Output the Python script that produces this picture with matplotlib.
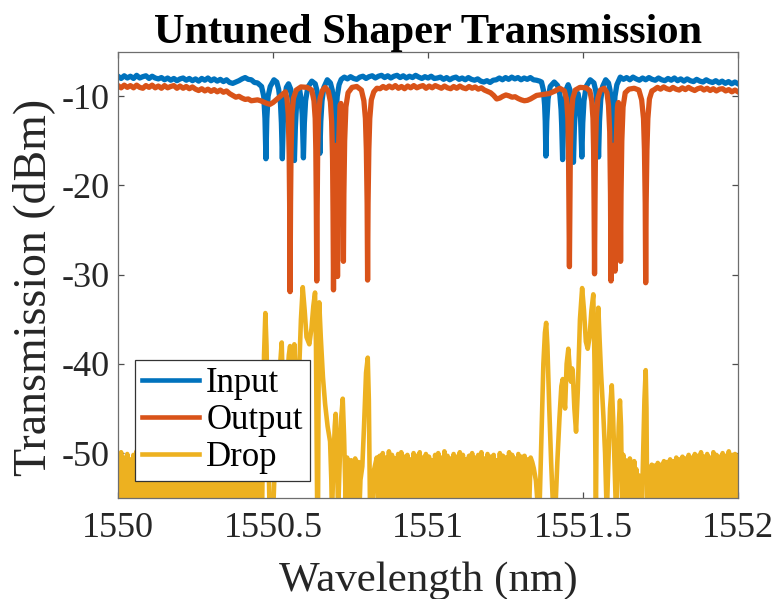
import numpy as np
import matplotlib
matplotlib.use("Agg")
import matplotlib.pyplot as plt

# ---------------- data ----------------
title = "Untuned Shaper Transmission"
xlabel = "Wavelength (nm)"
ylabel = "Transmission (dBm)"
series_names = ["Input", "Output", "Drop"]
x_ticks = [1550, 1550.5, 1551, 1551.5, 1552]
x_ticklabels = ["1550", "1550.5", "1551", "1551.5", "1552"]
y_ticks = [-50, -40, -30, -20, -10]
y_ticklabels = ["-50", "-40", "-30", "-20", "-10"]

# ---- Input (blue) ----
in_left_span = (1550.00, 1550.45)
in_left = [-7.75, -8.0, -7.7, -7.95, -7.75, -8.0, -7.65, -7.95, -7.8, -7.7,
           -8.0, -7.75, -7.95, -8.05, -7.9, -8.15, -7.95, -8.2, -8.0, -8.25,
           -8.05, -7.95, -8.2, -8.0, -8.25, -8.05, -8.3, -8.0, -8.2, -7.95,
           -8.25, -8.05, -8.3, -8.1, -8.35, -8.15, -8.45, -8.55, -8.4, -8.25,
           -8.05, -7.9, -8.1, -8.15, -8.45, -8.5]
in_group1 = [(1550.463, -8.9), (1550.470, -10.0), (1550.474, -12.5), (1550.477, -17.0),
             (1550.480, -12.5), (1550.484, -10.0), (1550.491, -8.9), (1550.503, -8.15),
             (1550.512, -8.4), (1550.518, -9.2), (1550.524, -10.8), (1550.527, -13.0),
             (1550.530, -17.0), (1550.533, -13.0), (1550.537, -10.5), (1550.543, -9.0),
             (1550.550, -8.6), (1550.557, -9.2), (1550.563, -10.8), (1550.566, -13.0),
             (1550.569, -17.2), (1550.572, -13.5), (1550.576, -10.8), (1550.582, -9.5),
             (1550.586, -9.3), (1550.590, -10.2), (1550.594, -12.0), (1550.598, -16.9),
             (1550.601, -13.0), (1550.605, -10.5), (1550.612, -9.0), (1550.625, -8.3),
             (1550.636, -8.6), (1550.642, -9.4), (1550.646, -11.0), (1550.648, -12.8),
             (1550.651, -16.4), (1550.654, -12.8), (1550.658, -10.5), (1550.664, -9.0),
             (1550.675, -8.15), (1550.685, -8.5), (1550.691, -9.3), (1550.695, -10.8),
             (1550.697, -12.5), (1550.700, -15.7), (1550.703, -12.3), (1550.707, -10.0),
             (1550.713, -8.7)]
in_mid_span = (1550.72, 1551.36)
in_mid = [-8.1, -7.85, -8.05, -7.8, -8.0, -8.1, -7.85, -7.75, -8.0, -7.8,
          -7.7, -7.95, -7.75, -7.65, -7.9, -7.7, -7.95, -7.75, -7.65, -7.9,
          -7.7, -7.95, -7.75, -7.9, -7.65, -7.85, -8.0, -7.8, -7.95, -7.75,
          -8.0, -7.95, -7.85, -8.1, -7.9, -8.15, -7.95, -7.85, -8.1, -7.95,
          -8.15, -7.9, -8.1, -8.2, -8.05, -8.3, -8.4, -8.25, -8.45, -8.2,
          -8.15, -7.95, -8.15, -7.9, -8.1, -7.85, -8.05, -7.9, -8.15, -7.95,
          -8.1, -7.9, -8.15, -8.2, -8.3]
in_group2 = [(1551.366, -8.4), (1551.372, -9.3), (1551.376, -11.0), (1551.378, -12.8),
             (1551.380, -16.7), (1551.383, -12.8), (1551.387, -10.3), (1551.394, -8.9),
             (1551.407, -8.4), (1551.418, -8.8), (1551.425, -9.8), (1551.429, -11.5),
             (1551.431, -13.2), (1551.434, -17.1), (1551.437, -13.2), (1551.441, -10.6),
             (1551.446, -9.2), (1551.452, -8.7), (1551.458, -9.3), (1551.463, -11.0),
             (1551.466, -13.3), (1551.469, -17.4), (1551.472, -13.5), (1551.476, -11.0),
             (1551.480, -9.9), (1551.484, -9.7), (1551.488, -10.6), (1551.492, -12.5),
             (1551.496, -16.8), (1551.499, -13.0), (1551.503, -10.5), (1551.510, -8.9),
             (1551.523, -8.15), (1551.535, -8.5), (1551.541, -9.4), (1551.545, -11.0),
             (1551.547, -12.8), (1551.550, -16.8), (1551.553, -12.8), (1551.557, -10.4),
             (1551.563, -8.9), (1551.573, -8.15), (1551.582, -8.5), (1551.587, -9.3),
             (1551.591, -10.8), (1551.593, -12.5), (1551.596, -15.7), (1551.599, -12.3),
             (1551.603, -10.0), (1551.609, -8.7)]
in_right_span = (1551.62, 1552.00)
in_right = [-7.85, -8.1, -7.9, -8.15, -7.85, -8.05, -8.2, -7.95, -8.15, -7.9,
            -8.1, -8.2, -7.95, -8.15, -8.25, -8.0, -8.2, -7.95, -8.25, -8.05,
            -8.3, -8.05, -8.25, -8.35, -8.1, -8.3, -8.4, -8.15, -8.35, -8.45,
            -8.25, -8.5, -8.3, -8.55, -8.35, -8.6, -8.4, -8.6]

# ---- Output (orange) ----
out_left_span = (1550.00, 1550.53)
out_left = [-8.8, -9.05, -8.75, -9.0, -8.8, -9.05, -8.75, -9.0, -9.1, -8.8,
            -9.0, -8.75, -9.05, -8.85, -9.1, -8.8, -9.05, -8.9, -8.8, -9.1,
            -8.85, -9.1, -8.9, -9.15, -8.95, -9.2, -9.35, -9.15, -9.4, -9.2,
            -9.45, -9.25, -9.5, -9.3, -9.55, -9.4, -9.7, -9.9, -10.1, -10.0,
            -10.2, -10.35, -10.3, -10.5, -10.45, -10.4, -10.5, -10.65, -10.8, -10.9,
            -10.7, -10.4, -10.1, -9.8]
out_group1 = [(1550.540, -9.5), (1550.545, -10.3), (1550.549, -12.0), (1550.552, -16.5),
              (1550.5535, -22.0), (1550.555, -31.9), (1550.5565, -22.0), (1550.558, -16.5),
              (1550.561, -12.0), (1550.566, -10.2), (1550.575, -9.3), (1550.590, -8.95),
              (1550.610, -9.0), (1550.625, -9.3), (1550.632, -10.5), (1550.636, -12.5),
              (1550.638, -16.0), (1550.6395, -22.0), (1550.641, -30.7), (1550.6425, -22.0),
              (1550.644, -16.0), (1550.647, -12.0), (1550.652, -10.2), (1550.660, -9.3),
              (1550.668, -9.0), (1550.678, -9.4), (1550.685, -10.6), (1550.689, -12.8),
              (1550.692, -17.0), (1550.6935, -23.0), (1550.695, -31.7), (1550.6965, -24.0),
              (1550.699, -18.0), (1550.702, -15.5), (1550.705, -19.0), (1550.7065, -24.0),
              (1550.708, -30.2), (1550.7095, -22.0), (1550.712, -15.0), (1550.716, -11.0),
              (1550.719, -10.8), (1550.722, -13.0), (1550.724, -17.0), (1550.7255, -22.0),
              (1550.727, -28.5), (1550.7285, -21.0), (1550.731, -15.0), (1550.735, -11.2),
              (1550.742, -9.6), (1550.755, -9.0), (1550.770, -8.9), (1550.785, -9.3),
              (1550.793, -10.5), (1550.798, -12.5), (1550.801, -16.0), (1550.8035, -22.0),
              (1550.805, -30.6), (1550.8065, -22.0), (1550.809, -16.0), (1550.812, -12.5),
              (1550.817, -10.4), (1550.825, -9.5), (1550.835, -9.1)]
out_mid_span = (1550.845, 1551.37)
out_mid = [-9.15, -8.9, -9.1, -8.85, -9.05, -8.8, -9.1, -8.9, -9.15, -8.85,
           -9.05, -8.8, -9.05, -8.9, -8.8, -9.1, -8.85, -9.05, -8.8, -8.95,
           -9.1, -8.85, -9.05, -9.15, -8.9, -9.1, -8.85, -9.05, -9.15, -8.9,
           -9.1, -8.95, -9.2, -9.05, -9.3, -9.45, -9.6, -9.9, -10.3, -10.2,
           -10.0, -9.85, -9.95, -10.1, -10.05, -10.25, -10.4, -10.5, -10.45, -10.3,
           -10.1, -9.9, -9.85, -9.8]
out_group2 = [(1551.390, -9.7), (1551.410, -9.4), (1551.425, -9.1), (1551.440, -9.4),
              (1551.447, -10.4), (1551.451, -12.5), (1551.453, -16.0), (1551.4545, -22.0),
              (1551.456, -29.1), (1551.4575, -22.0), (1551.459, -16.0), (1551.462, -12.3),
              (1551.467, -10.2), (1551.475, -9.3), (1551.490, -9.0), (1551.510, -9.05),
              (1551.522, -9.4), (1551.528, -10.5), (1551.532, -12.5), (1551.534, -16.0),
              (1551.5355, -22.0), (1551.537, -29.9), (1551.5385, -22.0), (1551.540, -16.0),
              (1551.543, -12.3), (1551.548, -10.2), (1551.556, -9.3), (1551.568, -9.1),
              (1551.577, -9.6), (1551.582, -11.0), (1551.586, -14.0), (1551.5885, -21.0),
              (1551.590, -30.7), (1551.5915, -23.0), (1551.594, -17.0), (1551.597, -15.5),
              (1551.600, -19.0), (1551.6015, -24.0), (1551.603, -29.6), (1551.6045, -22.0),
              (1551.607, -15.0), (1551.611, -11.2), (1551.614, -10.7), (1551.617, -12.5),
              (1551.619, -17.0), (1551.620, -22.0), (1551.621, -28.5), (1551.6225, -21.0),
              (1551.625, -15.0), (1551.629, -11.2), (1551.636, -9.6), (1551.648, -9.2),
              (1551.665, -9.1), (1551.680, -9.3), (1551.689, -10.4), (1551.695, -12.5),
              (1551.698, -16.0), (1551.7005, -22.0), (1551.702, -30.9), (1551.7035, -22.0),
              (1551.706, -16.0), (1551.709, -12.5), (1551.714, -10.3), (1551.722, -9.4)]
out_right_span = (1551.73, 1552.00)
out_right = [-9.25, -9.0, -9.2, -8.95, -9.15, -9.25, -9.0, -9.2, -9.3, -9.05,
             -9.25, -9.0, -9.2, -9.35, -9.15, -9.05, -9.3, -9.1, -9.35, -9.15,
             -9.4, -9.2, -9.15, -9.4, -9.25, -9.5, -9.3, -9.5]

# ---- Drop (yellow) ----
# noise floor A (starts with a high sample, alternates high / low)
drop_a_span = (1550.000, 1550.447)
drop_a_hi = [-50.2, -49.9, -50.5, -50.1, -50.7, -50.2, -49.8, -50.4, -50.0, -50.6,
             -50.3, -50.1, -49.9, -50.5, -50.2, -50.4, -50.8, -50.1, -50.3, -49.8,
             -50.5, -50.2, -50.6, -50.0, -50.4, -50.7, -50.1, -50.3, -50.0, -50.6,
             -50.2, -50.5, -50.1, -49.9, -50.6, -50.3, -50.0, -50.4, -50.7, -50.2,
             -50.1, -50.5, -50.3, -49.9, -50.6, -50.4]
drop_a_lo = [-56.3, -57.8, -55.9, -58.4, -56.7, -57.1, -55.6, -58.9, -56.2, -57.5,
             -56.8, -55.7, -58.1, -56.4, -57.3, -55.8, -56.9, -58.6, -56.1, -57.4,
             -55.9, -56.6, -58.2, -57.0, -56.3, -55.8, -57.7, -56.5, -58.0, -56.2,
             -57.2, -55.7, -56.8, -58.3, -56.0, -57.6, -56.4, -55.9, -57.9, -56.7,
             -58.5, -56.1, -57.0, -55.8, -56.6]
drop_peaks1 = [(1550.4516, -50.4), (1550.455, -53.0), (1550.459, -56.5), (1550.4645, -57.0),
               (1550.468, -47.0), (1550.471, -39.0), (1550.4752, -34.3), (1550.479, -38.0),
               (1550.483, -46.0), (1550.488, -55.0), (1550.494, -58.0), (1550.501, -56.0),
               (1550.507, -50.0), (1550.512, -45.0), (1550.516, -42.0), (1550.520, -44.5),
               (1550.524, -39.5), (1550.528, -37.6), (1550.532, -43.0), (1550.537, -50.0),
               (1550.542, -47.0), (1550.547, -41.0), (1550.551, -39.0), (1550.555, -38.0),
               (1550.559, -41.5), (1550.5635, -40.5), (1550.5687, -37.8), (1550.573, -41.5),
               (1550.578, -46.0), (1550.584, -41.0), (1550.590, -35.0), (1550.5958, -31.4),
               (1550.602, -34.0), (1550.608, -37.0), (1550.617, -37.8), (1550.624, -36.0),
               (1550.630, -33.5), (1550.6355, -32.0), (1550.6385, -38.0), (1550.641, -50.0),
               (1550.6425, -57.0), (1550.645, -57.0), (1550.647, -42.0), (1550.649, -33.1),
               (1550.654, -37.0), (1550.661, -41.5), (1550.668, -44.5), (1550.676, -47.0),
               (1550.684, -48.7), (1550.688, -53.0), (1550.690, -57.0), (1550.695, -51.0),
               (1550.699, -47.0), (1550.702, -45.6), (1550.706, -49.0), (1550.7097, -57.0),
               (1550.715, -51.0), (1550.720, -46.0), (1550.7248, -43.9), (1550.729, -48.0),
               (1550.734, -55.0), (1550.739, -50.5), (1550.742, -56.0), (1550.745, -51.0),
               (1550.748, -57.0), (1550.752, -50.8), (1550.755, -55.5), (1550.758, -51.5),
               (1550.761, -56.5), (1550.765, -50.6), (1550.768, -57.0), (1550.771, -52.5),
               (1550.776, -51.0), (1550.779, -56.0), (1550.782, -53.0), (1550.788, -51.5),
               (1550.7935, -47.0), (1550.800, -41.0), (1550.8055, -39.3), (1550.809, -44.0),
               (1550.813, -57.0), (1550.819, -57.5), (1550.825, -52.0), (1550.8345, -50.5)]
# noise floor B (starts with a low sample)
drop_b_span = (1550.839, 1551.331)
drop_b_lo = [-57.1, -55.8, -56.6, -58.3, -56.0, -57.4, -55.9, -58.7, -56.5, -57.0,
             -56.2, -58.1, -55.7, -57.6, -56.9, -56.1, -58.4, -57.2, -55.8, -56.7,
             -58.0, -56.3, -57.5, -55.9, -56.8, -58.6, -56.4, -57.1, -55.7, -56.9,
             -58.2, -56.0, -57.3, -56.6, -55.8, -58.5, -56.2, -57.7, -56.1, -57.0,
             -55.9, -58.3, -56.5, -57.4, -56.0, -58.1, -56.8, -55.7, -57.2, -56.3]
drop_b_hi = [-50.3, -50.0, -50.5, -49.8, -50.2, -50.6, -50.1, -49.9, -50.4, -50.2,
             -50.7, -50.0, -50.3, -49.9, -50.5, -50.1, -50.4, -50.8, -50.2, -50.0,
             -50.5, -49.8, -50.3, -50.6, -50.1, -50.4, -49.9, -50.2, -50.7, -50.3,
             -50.0, -50.5, -50.2, -49.9, -50.6, -50.1, -50.4, -50.2, -50.8, -50.0,
             -50.3, -50.5, -49.9, -50.2, -50.6, -50.1, -50.4, -50.3, -50.7, -50.5]
drop_peaks2 = [(1551.336, -51.0), (1551.341, -51.7), (1551.348, -53.1), (1551.354, -56.0),
               (1551.359, -57.0), (1551.366, -48.0), (1551.372, -40.0), (1551.377, -36.5),
               (1551.381, -35.4), (1551.385, -38.0), (1551.391, -45.0), (1551.397, -51.0),
               (1551.403, -56.0), (1551.410, -57.0), (1551.417, -51.0), (1551.424, -46.0),
               (1551.430, -42.5), (1551.4345, -41.7), (1551.439, -44.0), (1551.442, -45.0),
               (1551.447, -40.0), (1551.4525, -38.3), (1551.457, -40.5), (1551.461, -42.0),
               (1551.4645, -40.5), (1551.4668, -40.9), (1551.472, -45.0), (1551.4774, -47.6),
               (1551.483, -43.0), (1551.490, -35.0), (1551.497, -31.5), (1551.503, -34.0),
               (1551.509, -37.5), (1551.515, -38.3), (1551.521, -37.0), (1551.527, -34.0),
               (1551.533, -32.2), (1551.537, -40.0), (1551.540, -52.0), (1551.5415, -57.0),
               (1551.544, -45.0), (1551.5475, -36.0), (1551.5494, -33.7), (1551.553, -37.0),
               (1551.558, -41.0), (1551.5655, -45.8), (1551.571, -50.0), (1551.5765, -57.0),
               (1551.581, -52.0), (1551.587, -45.0), (1551.5926, -42.4), (1551.597, -46.0),
               (1551.602, -52.0), (1551.6065, -57.0), (1551.611, -52.0), (1551.615, -47.0),
               (1551.619, -44.1), (1551.6225, -47.0), (1551.626, -56.0), (1551.630, -50.2),
               (1551.633, -55.5), (1551.637, -50.8), (1551.640, -56.5), (1551.644, -51.0),
               (1551.647, -55.0), (1551.651, -50.6), (1551.654, -57.0), (1551.658, -51.3),
               (1551.661, -56.0), (1551.665, -50.9), (1551.668, -55.8), (1551.672, -51.8),
               (1551.676, -57.0), (1551.680, -52.5), (1551.684, -55.5), (1551.689, -57.0),
               (1551.694, -50.0), (1551.698, -44.0), (1551.702, -40.7), (1551.7045, -45.0),
               (1551.707, -57.0), (1551.712, -57.0), (1551.7165, -52.5), (1551.7216, -51.3)]
# noise floor C (starts with a low sample)
drop_c_span = (1551.726, 1552.000)
drop_c_lo = [-57.0, -55.9, -56.8, -58.2, -56.3, -57.5, -55.8, -56.9, -58.4, -56.1,
             -57.3, -55.7, -56.6, -58.0, -56.4, -57.2, -55.9, -58.3, -56.7, -57.0,
             -56.2, -58.1, -55.8, -56.9, -57.6, -56.0, -58.5, -56.5]
drop_c_hi = [-51.4, -51.1, -51.3, -50.9, -51.0, -50.7, -50.9, -50.5, -50.7, -50.4,
             -50.6, -50.2, -50.5, -50.1, -50.3, -49.9, -50.4, -50.1, -50.5, -49.9,
             -50.2, -50.4, -50.0, -50.3, -49.8, -50.2, -50.1, -50.3]

colors = ["#0072BD", "#D95319", "#EDB120"]


# ---------------- assembling helpers ----------------
def uniform(span, vals):
    return list(np.linspace(span[0], span[1], len(vals))), list(vals)


def pairs(p):
    return [a for a, _ in p], [b for _, b in p]


def interleave(first, second):
    out = []
    for i in range(len(first)):
        out.append(first[i])
        if i < len(second):
            out.append(second[i])
    return out


def join(*segs):
    xs, ys = [], []
    for sx, sy in segs:
        xs += list(sx)
        ys += list(sy)
    return np.array(xs), np.array(ys)


in_x, in_y = join(uniform(in_left_span, in_left), pairs(in_group1),
                  uniform(in_mid_span, in_mid), pairs(in_group2),
                  uniform(in_right_span, in_right))
out_x, out_y = join(uniform(out_left_span, out_left), pairs(out_group1),
                    uniform(out_mid_span, out_mid), pairs(out_group2),
                    uniform(out_right_span, out_right))
drop_x, drop_y = join(uniform(drop_a_span, interleave(drop_a_hi, drop_a_lo)),
                      pairs(drop_peaks1),
                      uniform(drop_b_span, interleave(drop_b_lo, drop_b_hi)),
                      pairs(drop_peaks2),
                      uniform(drop_c_span, interleave(drop_c_lo, drop_c_hi)))

# ---------------- plotting ----------------
plt.rcParams["font.family"] = ["Liberation Serif", "DejaVu Serif"]
plt.rcParams["axes.unicode_minus"] = False

fig = plt.figure(figsize=(7.77, 5.99), dpi=100)
ax = fig.add_axes([0.1519, 0.1691, 0.798, 0.7446])

ax.plot(in_x, in_y, color=colors[0], lw=3.8, label=series_names[0])
ax.plot(out_x, out_y, color=colors[1], lw=3.8, label=series_names[1])
ax.plot(drop_x, drop_y, color=colors[2], lw=3.3, label=series_names[2])

ax.set_xlim(1550, 1552)
ax.set_ylim(-55, -5)
ax.set_xticks(x_ticks)
ax.set_xticklabels(x_ticklabels)
ax.set_yticks(y_ticks)
ax.set_yticklabels(y_ticklabels)

axis_col = "#262626"
for s in ax.spines.values():
    s.set_color("#6e6e6e")
    s.set_linewidth(0.9)
ax.tick_params(direction="in", length=4, width=0.9, color="#4d4d4d",
               top=True, right=True, labelsize=26, labelcolor=axis_col)
ax.tick_params(axis="x", pad=10)
ax.tick_params(axis="y", pad=6)

ax.set_xlabel(xlabel, fontsize=31, color=axis_col, labelpad=12)
ax.set_ylabel(ylabel, fontsize=33, color=axis_col)
ax.yaxis.set_label_coords(-0.102, 0.472)
ax.set_title(title, fontsize=30.5, fontweight="bold", color="black", pad=6)

leg = ax.legend(loc="lower left", bbox_to_anchor=(0.0274, 0.0374), borderaxespad=0,
                fontsize=25, frameon=True, fancybox=False, framealpha=1,
                edgecolor="#333333", handlelength=1.65, handletextpad=0.2,
                labelspacing=0.12, borderpad=0.2)
leg.get_frame().set_linewidth(0.9)
for line in leg.get_lines():
    line.set_linewidth(3.3)
for t in leg.get_texts():
    t.set_color("black")

fig.savefig("out.png", dpi=100)
